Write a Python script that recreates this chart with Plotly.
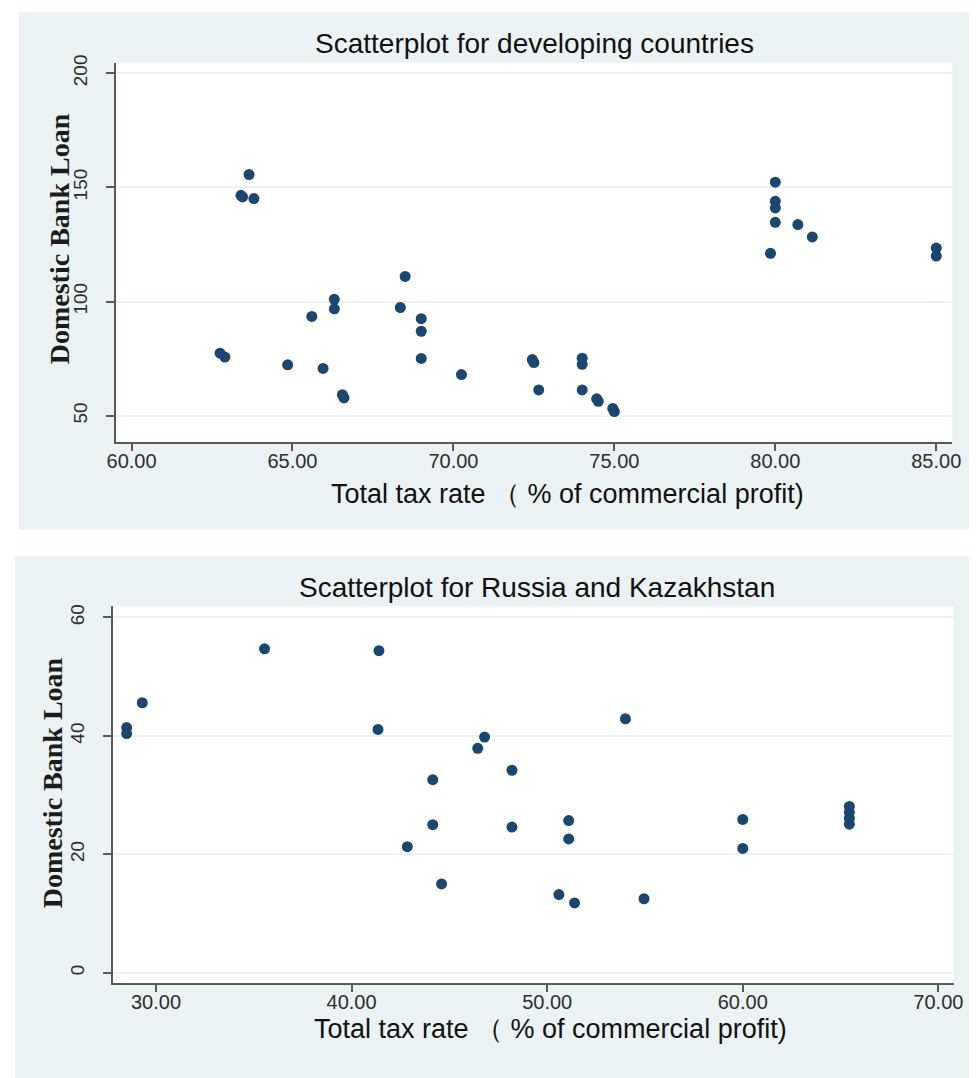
import plotly.graph_objects as go

# Developing countries: total tax rate vs domestic bank loan
dev_tax = [62.75, 62.9, 63.4, 63.45, 63.65, 63.8, 64.85, 65.6, 65.95, 66.3, 66.3,
           66.55, 66.6, 68.35, 68.5, 69.0, 69.0, 69.0, 70.25, 72.45, 72.5, 72.65,
           74.0, 74.0, 74.0, 74.45, 74.5, 74.95, 75.0, 79.85, 80.0, 80.0, 80.0,
           80.0, 80.7, 81.15, 85.0, 85.0]
dev_loan = [77.4, 75.7, 146.5, 145.8, 155.6, 145.1, 72.3, 93.5, 70.7, 101.0, 96.8,
            59.2, 57.8, 97.4, 111.0, 92.5, 87.0, 75.1, 68.0, 74.6, 73.3, 61.3,
            75.2, 72.5, 61.3, 57.4, 56.3, 53.2, 51.8, 121.1, 152.3, 143.9, 141.0,
            134.7, 133.7, 128.3, 123.4, 119.9]

# Russia and Kazakhstan
rk_tax = [28.5, 28.5, 29.3, 35.55, 41.4, 41.35, 42.85, 44.15, 44.15, 44.6, 46.45,
          46.8, 48.2, 48.2, 50.6, 51.1, 51.1, 51.4, 54.0, 54.95, 60.0, 60.0,
          65.45, 65.45, 65.45, 65.45]
rk_loan = [41.4, 40.4, 45.6, 54.7, 54.4, 41.1, 21.3, 32.6, 25.0, 15.0, 37.9,
           39.8, 34.2, 24.6, 13.2, 25.7, 22.6, 11.8, 42.9, 12.5, 25.9, 21.0,
           28.1, 27.1, 26.1, 25.1]

dev_xticks = [60, 65, 70, 75, 80, 85]
dev_yticks = [50, 100, 150, 200]
rk_xticks = [30, 40, 50, 60, 70]
rk_yticks = [0, 20, 40, 60]

titles = ["Scatterplot for developing countries", "Scatterplot for Russia and Kazakhstan"]
x_title = "Total tax rate （ % of commercial profit)"
y_title = "Domestic Bank Loan"

W, H = 979, 1078
NAVY = "#1a476f"
PANEL = "#eaf2f3"
AXIS = "#5a5a5a"
TICKTXT = "#2e2e2e"


def px_x(p):
    return p / W


def px_y(p):
    return 1 - p / H


# plot-area boxes in pixels: (left, right, top, bottom)
top_box = (108.3, 962.0, 55.0, 437.0)
bot_box = (105.3, 963.3, 602.7, 982.3)

fig = go.Figure()
fig.add_trace(go.Scatter(x=dev_tax, y=dev_loan, mode="markers",
                         marker=dict(color=NAVY, size=11, line=dict(width=0)),
                         xaxis="x", yaxis="y", showlegend=False))
fig.add_trace(go.Scatter(x=rk_tax, y=rk_loan, mode="markers",
                         marker=dict(color=NAVY, size=11, line=dict(width=0)),
                         xaxis="x2", yaxis="y2", showlegend=False))


def xaxis_cfg(box, rng, ticks):
    return dict(domain=[px_x(box[0]), px_x(box[1])], range=rng,
                tickvals=ticks, ticktext=[f"{t:.2f}" for t in ticks],
                showline=True, linecolor=AXIS, linewidth=1.5,
                ticks="outside", ticklen=7, tickwidth=1.5, tickcolor=AXIS,
                ticklabelstandoff=-7,
                showgrid=False, zeroline=False,
                tickfont=dict(family="Liberation Sans, Arial", size=20, color=TICKTXT))


def yaxis_cfg(box, rng, ticks, anchor):
    return dict(domain=[px_y(box[3]), px_y(box[2])], range=rng, anchor=anchor,
                tickvals=ticks, ticktext=[str(t) for t in ticks], tickangle=-90,
                showline=True, linecolor=AXIS, linewidth=1.5,
                ticks="outside", ticklen=8, tickwidth=1.5, tickcolor=AXIS,
                ticklabelstandoff=12,
                showgrid=True, gridcolor=PANEL, gridwidth=1.5, zeroline=False,
                tickfont=dict(family="Liberation Sans, Arial", size=19, color=TICKTXT))


shapes = [
    dict(type="rect", xref="paper", yref="paper", x0=px_x(9), x1=1,
         y0=px_y(525.7), y1=px_y(4), fillcolor=PANEL, line=dict(width=0), layer="below"),
    dict(type="rect", xref="paper", yref="paper", x0=px_x(5), x1=1,
         y0=0, y1=px_y(552.3), fillcolor=PANEL, line=dict(width=0), layer="below"),
]
for b in (top_box, bot_box):
    shapes.append(dict(type="rect", xref="paper", yref="paper",
                       x0=px_x(b[0]), x1=px_x(b[1]), y0=px_y(b[3]), y1=px_y(b[2]),
                       fillcolor="white", line=dict(width=0), layer="below"))

title_font = dict(family="Liberation Sans, Arial", size=28, color="#111111")
xtitle_font = dict(family="Liberation Sans, Arial", size=27, color="#111111")
ytitle_font = dict(family="Liberation Serif, Times New Roman", size=28, color="#1c1c1c")


def ann(text, x, y, font, angle=0):
    return dict(text=text, xref="paper", yref="paper", x=px_x(x), y=px_y(y),
                xanchor="center", yanchor="middle", showarrow=False,
                font=font, textangle=angle)


annotations = [
    ann(titles[0], 535.4, 36, title_font),
    ann(titles[1], 537.8, 584, title_font),
    ann(x_title, 569, 490, xtitle_font),
    ann(x_title, 551.7, 1029, xtitle_font),
    ann(f"<b>{y_title}</b>", 50, 232, ytitle_font, -90),
    ann(f"<b>{y_title}</b>", 43, 781, ytitle_font, -90),
]

fig.update_layout(
    width=W, height=H, margin=dict(l=0, r=0, t=0, b=0),
    paper_bgcolor="white", plot_bgcolor="white",
    xaxis=xaxis_cfg(top_box, [59.52, 85.5], dev_xticks) | dict(anchor="y"),
    yaxis=yaxis_cfg(top_box, [38.6, 204.65], dev_yticks, "x"),
    xaxis2=xaxis_cfg(bot_box, [27.81, 70.78], rk_xticks) | dict(anchor="y2"),
    yaxis2=yaxis_cfg(bot_box, [-1.73, 61.9], rk_yticks, "x2"),
    shapes=shapes, annotations=annotations,
)

fig.write_html("out.html")
